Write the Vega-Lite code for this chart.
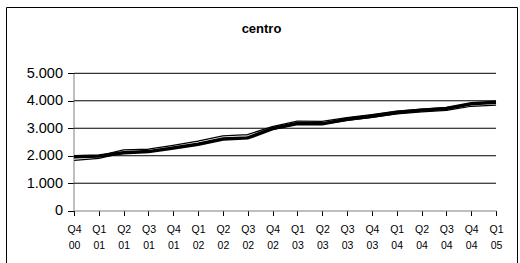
{
  "$schema": "https://vega.github.io/schema/vega-lite/v6.json",
  "width": 511,
  "height": 263,
  "autosize": {"type": "none"},
  "padding": {"left": 6, "top": 7, "right": 3, "bottom": 0},
  "background": "white",
  "title": {"text": "centro", "font": "Liberation Sans", "fontSize": 13, "fontWeight": "bold", "color": "black", "anchor": "middle", "baseline": "alphabetic", "offset": -39},
  "config": {"view": {"stroke": "black", "strokeWidth": 1}},
  "datasets": {
    "grid": [{"a": "Q4 00", "b": "Q1 05", "g": 1000}, {"a": "Q4 00", "b": "Q1 05", "g": 2000}, {"a": "Q4 00", "b": "Q1 05", "g": 3000}, {"a": "Q4 00", "b": "Q1 05", "g": 4000}, {"a": "Q4 00", "b": "Q1 05", "g": 5000}]
  },
  "data": {"values": [
    {"q": "Q4 00", "s": "A", "v": 1960}, {"q": "Q1 01", "s": "A", "v": 1990}, {"q": "Q2 01", "s": "A", "v": 2110},
    {"q": "Q3 01", "s": "A", "v": 2150}, {"q": "Q4 01", "s": "A", "v": 2280}, {"q": "Q1 02", "s": "A", "v": 2420},
    {"q": "Q2 02", "s": "A", "v": 2610}, {"q": "Q3 02", "s": "A", "v": 2650}, {"q": "Q4 02", "s": "A", "v": 2990},
    {"q": "Q1 03", "s": "A", "v": 3170}, {"q": "Q2 03", "s": "A", "v": 3160}, {"q": "Q3 03", "s": "A", "v": 3330},
    {"q": "Q4 03", "s": "A", "v": 3440}, {"q": "Q1 04", "s": "A", "v": 3570}, {"q": "Q2 04", "s": "A", "v": 3660},
    {"q": "Q3 04", "s": "A", "v": 3720}, {"q": "Q4 04", "s": "A", "v": 3890}, {"q": "Q1 05", "s": "A", "v": 3950},
    {"q": "Q4 00", "s": "B", "v": 1880}, {"q": "Q1 01", "s": "B", "v": 1950}, {"q": "Q2 01", "s": "B", "v": 2160},
    {"q": "Q3 01", "s": "B", "v": 2190}, {"q": "Q4 01", "s": "B", "v": 2330}, {"q": "Q1 02", "s": "B", "v": 2480},
    {"q": "Q2 02", "s": "B", "v": 2670}, {"q": "Q3 02", "s": "B", "v": 2720}, {"q": "Q4 02", "s": "B", "v": 3010},
    {"q": "Q1 03", "s": "B", "v": 3210}, {"q": "Q2 03", "s": "B", "v": 3200}, {"q": "Q3 03", "s": "B", "v": 3340},
    {"q": "Q4 03", "s": "B", "v": 3450}, {"q": "Q1 04", "s": "B", "v": 3570}, {"q": "Q2 04", "s": "B", "v": 3650},
    {"q": "Q3 04", "s": "B", "v": 3700}, {"q": "Q4 04", "s": "B", "v": 3850}, {"q": "Q1 05", "s": "B", "v": 3890}
  ]},
  "encoding": {
    "x": {"field": "q", "type": "ordinal", "sort": null, "title": null,
      "scale": {"type": "point", "padding": 0, "range": [68, 490],
        "domain": ["Q4 00", "Q1 01", "Q2 01", "Q3 01", "Q4 01", "Q1 02", "Q2 02", "Q3 02", "Q4 02", "Q1 03", "Q2 03", "Q3 03", "Q4 03", "Q1 04", "Q2 04", "Q3 04", "Q4 04", "Q1 05"]},
      "axis": {"offset": -59.5, "labelAngle": 0, "labelExpr": "split(datum.label, ' ')", "labelFont": "Liberation Sans", "labelFontSize": 10.5, "labelColor": "black", "labelLineHeight": 15.5, "labelPadding": 9, "tickSize": 5, "tickColor": "black", "domainColor": "#808080", "grid": false}},
    "y": {"field": "v", "type": "quantitative", "title": null,
      "scale": {"domain": [0, 5000], "nice": false, "range": [203.7, 66.3]},
      "axis": {"offset": -67.5, "values": [0, 1000, 2000, 3000, 4000, 5000], "format": ",d", "labelExpr": "replace(datum.label, ',', '.')", "labelFont": "Liberation Sans", "labelFontSize": 14.5, "labelColor": "black", "labelPadding": 5, "tickSize": 6, "tickColor": "black", "domainColor": "#808080", "grid": false}}
  },
  "layer": [
    {
      "data": {"name": "grid"},
      "mark": {"type": "rule", "color": "black", "strokeWidth": 1},
      "encoding": {
        "x": {"field": "a", "type": "ordinal", "sort": null},
        "x2": {"field": "b"},
        "y": {"field": "g", "type": "quantitative"}
      }
    },
    {"transform": [{"filter": "datum.s === 'B'"}], "mark": {"type": "line", "color": "black", "strokeWidth": 4}},
    {"transform": [{"filter": "datum.s === 'B'"}], "mark": {"type": "line", "color": "white", "strokeWidth": 1.5}},
    {"transform": [{"filter": "datum.s === 'A'"}], "mark": {"type": "line", "color": "black", "strokeWidth": 3.5}}
  ]
}
